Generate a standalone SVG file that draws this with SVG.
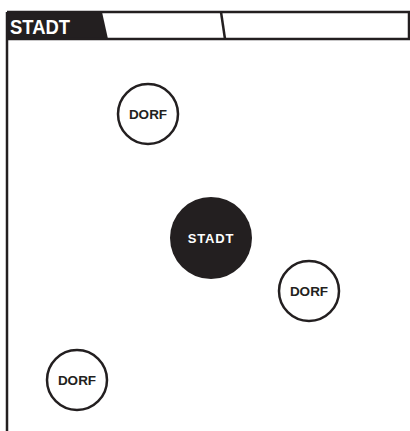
<svg xmlns="http://www.w3.org/2000/svg" width="410" height="431" viewBox="0 0 410 431">
<style>
.line{fill:none;stroke:#231f20;stroke-width:2.5}
.dorf{fill:#fff;stroke:#231f20;stroke-width:2.5}
.lbl{font-family:"Liberation Sans",Arial,sans-serif;font-weight:bold;text-anchor:middle}
</style>
<rect width="410" height="431" fill="#fff"/>
<g id="header">
<polygon points="7,12 102,12 108,39 7,39" fill="#231f20"/>
<line class="line" x1="7" y1="12" x2="410" y2="12"/>
<line class="line" x1="7" y1="39" x2="410" y2="39"/>
<line class="line" x1="221" y1="12" x2="225" y2="39"/>
<line class="line" x1="409" y1="12" x2="409" y2="39"/>
<line class="line" x1="7" y1="12" x2="7" y2="431"/>
<text x="10" y="33.5" font-family="Liberation Sans,Arial,sans-serif" font-weight="bold" font-size="21" fill="#fff" textLength="60" lengthAdjust="spacingAndGlyphs">STADT</text>
</g>
<g id="connectors"></g>
<g id="dorf1">
<circle class="dorf" cx="148" cy="114" r="30"/>
<text class="lbl" x="148" y="119" font-size="13.5" fill="#231f20">DORF</text>
</g>
<g id="stadt">
<circle cx="211" cy="238" r="41" fill="#231f20"/>
<text class="lbl" x="211" y="243" font-size="13" fill="#fff" letter-spacing="0.8">STADT</text>
</g>
<g id="dorf2">
<circle class="dorf" cx="309" cy="291" r="30"/>
<text class="lbl" x="309" y="296" font-size="13.5" fill="#231f20">DORF</text>
</g>
<g id="dorf3">
<circle class="dorf" cx="77" cy="380" r="30"/>
<text class="lbl" x="77" y="385" font-size="13.5" fill="#231f20">DORF</text>
</g>
</svg>
